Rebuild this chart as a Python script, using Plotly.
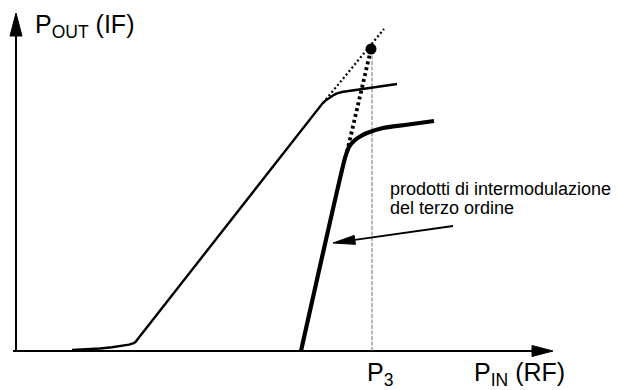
import numpy as np
import plotly.graph_objects as go

# ---- schematic data (units: origin at axes corner, y up) ----
fund_x = [56, 70, 84, 96, 107, 113, 117, 119.5, 121, 306, 310, 314, 318, 321, 324, 327, 331, 336, 344, 364, 381]
fund_y = [1, 1.6, 2.5, 3.7, 5.2, 6.4, 7.7, 9.0, 11, 247, 250.8, 253.8, 256.2, 257.6, 258.6, 259.2, 259.8, 260.5, 262, 264.5, 267]

im3_x = [285, 329, 333, 339, 345, 351, 367, 389, 418]
im3_y = [0, 193, 204, 211, 215, 218, 223, 226, 230]

fund_ext_x = [307, 368]
fund_ext_y = [248, 322]

im3_ext_x = [331, 355]
im3_ext_y = [199, 302]

ip3_x = [355]
ip3_y = [302]

x_axis_end = 537
y_axis_end = 338

callout_from = (437, 125)
callout_to = (317, 108)

FONT = "Arial, Liberation Sans, sans-serif"

fig = go.Figure()

# axes lines
fig.add_trace(go.Scatter(x=[-3, x_axis_end - 15], y=[0, 0], mode="lines",
                         line=dict(color="black", width=2), hoverinfo="skip"))
fig.add_trace(go.Scatter(x=[0, 0], y=[0, y_axis_end - 15], mode="lines",
                         line=dict(color="black", width=2), hoverinfo="skip"))
# arrow heads of axes
fig.add_trace(go.Scatter(x=[x_axis_end, x_axis_end - 21, x_axis_end - 21, x_axis_end],
                         y=[0, 5.5, -5.5, 0], mode="lines", fill="toself",
                         fillcolor="black", line=dict(color="black", width=1), hoverinfo="skip"))
fig.add_trace(go.Scatter(x=[0, -6, 6, 0],
                         y=[y_axis_end, y_axis_end - 23, y_axis_end - 23, y_axis_end],
                         mode="lines", fill="toself",
                         fillcolor="black", line=dict(color="black", width=1), hoverinfo="skip"))

# P3 vertical guide
fig.add_trace(go.Scatter(x=[ip3_x[0] + 1, ip3_x[0] + 1], y=[0, ip3_y[0]], mode="lines",
                         line=dict(color="#707070", width=1, dash="4px,1.5px"), hoverinfo="skip"))

# extrapolations
fig.add_trace(go.Scatter(x=fund_ext_x, y=fund_ext_y, mode="lines",
                         line=dict(color="black", width=2.2, dash="2px,2.5px"), hoverinfo="skip"))
fig.add_trace(go.Scatter(x=im3_ext_x, y=im3_ext_y, mode="lines",
                         line=dict(color="black", width=3.8, dash="3px,3px"), hoverinfo="skip"))

# curves
fig.add_trace(go.Scatter(x=fund_x, y=fund_y, mode="lines",
                         line=dict(color="black", width=2.4),
                         hoverinfo="skip"))
fig.add_trace(go.Scatter(x=im3_x, y=im3_y, mode="lines",
                         line=dict(color="black", width=4.2, shape="spline", smoothing=0.5),
                         hoverinfo="skip"))

# intercept dot
fig.add_trace(go.Scatter(x=ip3_x, y=ip3_y, mode="markers",
                         marker=dict(color="black", size=11), hoverinfo="skip"))

# callout arrow
x0, y0 = callout_from
x1, y1 = callout_to
d = np.array([x1 - x0, y1 - y0], dtype=float)
L = np.hypot(*d)
u = d / L
n = np.array([-u[1], u[0]])
head_len, head_half = 22, 4.5
base = np.array([x1, y1]) - u * head_len
fig.add_trace(go.Scatter(x=[x0, base[0]], y=[y0, base[1]], mode="lines",
                         line=dict(color="black", width=1.8), hoverinfo="skip"))
p1 = base + n * head_half
p2 = base - n * head_half
fig.add_trace(go.Scatter(x=[x1, p1[0], p2[0], x1], y=[y1, p1[1], p2[1], y1],
                         mode="lines", fill="toself", fillcolor="black",
                         line=dict(color="black", width=1), hoverinfo="skip"))

# texts
fig.add_annotation(x=17, y=325, xref="x", yref="y", xanchor="left", yanchor="middle",
                   text="P<sub>OUT</sub> (IF)", showarrow=False,
                   font=dict(family=FONT, size=25, color="black"))
fig.add_annotation(x=349, y=-23, xref="x", yref="y", xanchor="left", yanchor="middle",
                   text="P<sub>3</sub>", showarrow=False,
                   font=dict(family=FONT, size=25, color="black"))
fig.add_annotation(x=456, y=-23, xref="x", yref="y", xanchor="left", yanchor="middle",
                   text="P<sub>IN</sub> (RF)", showarrow=False,
                   font=dict(family=FONT, size=25, color="black"))
fig.add_annotation(x=372, y=162, xref="x", yref="y", xanchor="left", yanchor="middle",
                   text="prodotti di intermodulazione", showarrow=False,
                   font=dict(family=FONT, size=18, color="black"))
fig.add_annotation(x=372, y=143, xref="x", yref="y", xanchor="left", yanchor="middle",
                   text="del terzo ordine", showarrow=False,
                   font=dict(family=FONT, size=18, color="black"))

fig.update_layout(
    width=619, height=390, autosize=False,
    margin=dict(l=0, r=0, t=0, b=0),
    paper_bgcolor="white", plot_bgcolor="white",
    showlegend=False,
    xaxis=dict(range=[-16, 603], visible=False, fixedrange=True),
    yaxis=dict(range=[-39, 351], visible=False, fixedrange=True),
)

fig.write_html("out.html", config={"displayModeBar": False})
